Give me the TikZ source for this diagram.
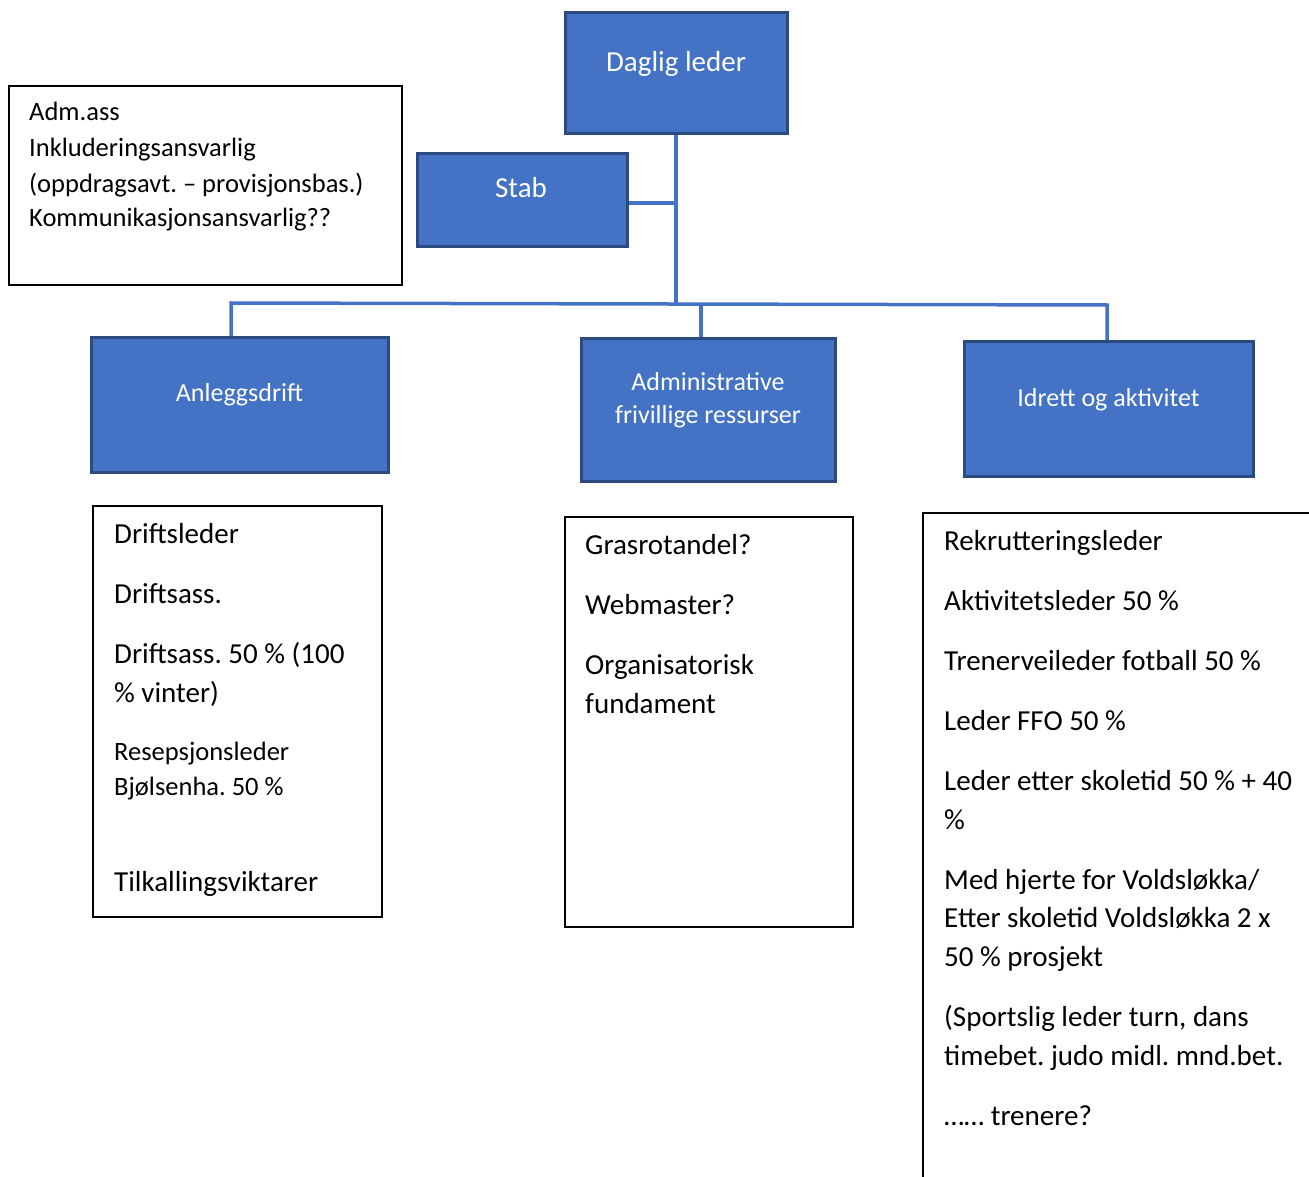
\documentclass[tikz,border=0pt]{standalone}
\usepackage{fontspec}
\setmainfont{Carlito}
\frenchspacing
\usetikzlibrary{positioning}
\definecolor{unitblue}{HTML}{4472C4}
\definecolor{unitline}{HTML}{2B4A80}
\definecolor{linkblue}{HTML}{4472C4}

\begin{document}
\begin{tikzpicture}[x=1pt, y=-1pt,
    unitbox/.style={draw=unitline, fill=unitblue, line width=3pt,
                    rectangle, inner sep=0pt},
    unitlbl/.style={text=white, anchor=base, inner sep=0pt, align=center,
                    font=\fontsize{26}{33}\selectfont},
    listbox/.style={draw=black, line width=1.5pt, fill=white,
                    rectangle, inner sep=0pt},
    entry/.style={anchor=base west, inner sep=0pt,
                  font=\fontsize{29}{35}\selectfont},
    smallentry/.style={entry, font=\fontsize{26.5}{32}\selectfont},
    link/.style={draw=linkblue, line width=3.5pt}]
    \useasboundingbox (0,0) rectangle (1309,1177);

    % connectors
    \coordinate (busL) at (231,303);
    \coordinate (busM) at (701,304);
    \coordinate (busR) at (1107,305);
    \coordinate (dlfoot) at (676,134);
    \coordinate (stabfoot) at (627,203);
    \draw[link] (dlfoot) -- (dlfoot |- busM);
    \draw[link] (stabfoot) -- (stabfoot -| dlfoot);
    \draw[link] (busL |- 0,337) -- (busL) -- (busR) -- (busR |- 0,341);
    \draw[link] (busM) -- (busM |- 0,338);

    % top
    \node[unitbox, minimum width=222pt, minimum height=121pt] (dl) at (676,73.5) {};
    \node[unitlbl, font=\fontsize{29}{35}\selectfont] (dltxt) at (676,71.5) {Daglig leder};
    \node[unitbox, minimum width=210pt, minimum height=92pt] (stab) at (522,200) {};
    \node[unitlbl, font=\fontsize{29}{35}\selectfont] (stabtxt) at (521,198) {Stab};

    % staff
    \node[listbox, minimum width=393pt, minimum height=199pt] (staff) at (205.5,185.5) {};
    \node[smallentry] (staff1) at (29,121) {Adm.ass};
    \node[smallentry] (staff2) at (29,157) {Inkluderingsansvarlig};
    \node[smallentry] (staff3) at (29,192.5) {(oppdragsavt. – provisjonsbas.)};
    \node[smallentry] (staff4) at (29,227) {Kommunikasjonsansvarlig??};

    % units
    \node[unitbox, minimum width=297pt, minimum height=135pt] (anl) at (239.5,404.5) {};
    \node[unitlbl] (anltxt) at (239.5,401) {Anleggsdrift};
    \node[unitbox, minimum width=254pt, minimum height=143pt] (adm) at (708,409.5) {};
    \node[unitlbl] (admtxt) at (708,423) {Administrative\\frivillige ressurser};
    \node[unitbox, minimum width=289pt, minimum height=135pt] (idr) at (1108.5,408.5) {};
    \node[unitlbl] (idrtxt) at (1108.5,406) {Idrett og aktivitet};

    % Anleggsdrift list
    \node[listbox, minimum width=289pt, minimum height=411pt] (anlist) at (237.5,711.5) {};
    \node[entry] (anl1) at (114,543) {Driftsleder};
    \node[entry] (anl2) at (114,603) {Driftsass.};
    \node[entry] (anl3) at (114,663) {Driftsass. 50~\% (100};
    \node[entry] (anl4) at (114,702) {\%~vinter)};
    \node[smallentry] (anl5) at (114,760) {Resepsjonsleder};
    \node[smallentry] (anl6) at (114,795) {Bjølsenha. 50~\%};
    \node[entry] (anl7) at (114,891) {Tilkallingsviktarer};

    % Administrative list
    \node[listbox, minimum width=288pt, minimum height=410pt] (admlist) at (709,722) {};
    \node[entry] (adm1) at (585,554) {Grasrotandel?};
    \node[entry] (adm2) at (585,614) {Webmaster?};
    \node[entry] (adm3) at (585,674) {Organisatorisk};
    \node[entry] (adm4) at (585,713) {fundament};

    % Idrett list
    \node[listbox, minimum width=420pt, minimum height=700pt] (idrlist) at (1133,863) {};
    \node[entry] (idr1) at (944,550) {Rekrutteringsleder};
    \node[entry] (idr2) at (944,610) {Aktivitetsleder 50~\%};
    \node[entry] (idr3) at (944,670) {Trenerveileder fotball 50~\%};
    \node[entry] (idr4) at (944,730) {Leder FFO 50~\%};
    \node[entry] (idr5) at (944,790) {Leder etter skoletid 50~\% + 40};
    \node[entry] (idr6) at (944,829) {\%};
    \node[entry] (idr7) at (944,889) {Med hjerte for Voldsløkka/};
    \node[entry] (idr8) at (944,927) {Etter skoletid Voldsløkka 2 x};
    \node[entry] (idr9) at (944,966) {50~\% prosjekt};
    \node[entry] (idr10) at (944,1026) {(Sportslig leder turn, dans};
    \node[entry] (idr11) at (944,1065) {timebet. judo midl. mnd.bet.};
    \node[entry] (idr12) at (944,1125) {…… trenere?};
\end{tikzpicture}
\end{document}
